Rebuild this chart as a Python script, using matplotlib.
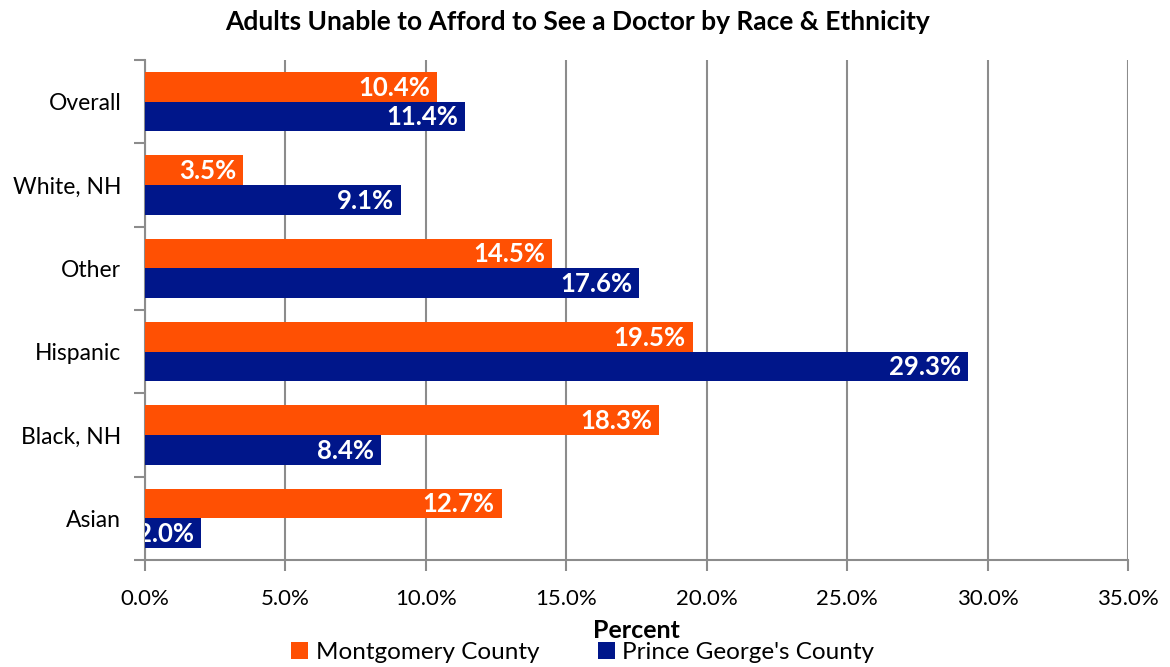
import matplotlib.pyplot as plt
import numpy as np

plt.rcParams['font.family'] = ['Lato', 'DejaVu Sans']

# Chart data (top to bottom)
categories = ['Overall', 'White, NH', 'Other', 'Hispanic', 'Black, NH', 'Asian']
montgomery = [10.4, 3.5, 14.5, 19.5, 18.3, 12.7]
prince_georges = [11.4, 9.1, 17.6, 29.3, 8.4, 2.0]
series_names = ['Montgomery County', "Prince George's County"]
xticks = [0, 5, 10, 15, 20, 25, 30, 35]

orange = '#FF5003'
navy = '#00168A'
grid_gray = '#8C8C8C'

fig = plt.figure(figsize=(11.7, 6.67), dpi=100)
ax = fig.add_axes([0.1239, 0.1604, 0.8402, 0.7496])

y = np.arange(len(categories))
bar_h = 0.355

b1 = ax.barh(y - bar_h / 2, montgomery, height=bar_h, color=orange,
             label=series_names[0], zorder=3)
b2 = ax.barh(y + bar_h / 2, prince_georges, height=bar_h, color=navy,
             label=series_names[1], zorder=3)

# value labels inside bar ends
for bars, vals in [(b1, montgomery), (b2, prince_georges)]:
    for rect, v in zip(bars, vals):
        ax.text(v - 0.25, rect.get_y() + rect.get_height() / 2 + 0.01,
                f'{v:.1f}%', ha='right', va='center', color='white',
                fontsize=18.5, fontweight='bold', zorder=4, clip_on=True)

ax.set_xlim(0, 35)
ax.set_ylim(len(categories) - 0.5, -0.5)
ax.set_xticks(xticks)
ax.set_xticklabels([f'{t:.1f}%' for t in xticks], fontsize=16)
ax.tick_params(axis='x', length=8, width=1.5, color=grid_gray, pad=13)

# category labels in the middle, ticks at boundaries
ax.set_yticks(y)
ax.set_yticklabels(categories, fontsize=16.5)
ax.tick_params(axis='y', which='major', length=0, pad=17)
ax.set_yticks(np.arange(len(categories) + 1) - 0.5, minor=True)
ax.tick_params(axis='y', which='minor', length=8, width=1.5, color=grid_gray)

ax.grid(axis='x', color=grid_gray, linewidth=1.5, zorder=0)
for side in ['top', 'right']:
    ax.spines[side].set_visible(False)
for side in ['left', 'bottom']:
    ax.spines[side].set_color(grid_gray)
    ax.spines[side].set_linewidth(1.5)

fig.text(0.494, 0.967, 'Adults Unable to Afford to See a Doctor by Race & Ethnicity',
         ha='center', va='center', fontsize=19, fontweight='bold')
fig.text(0.544, 0.054, 'Percent', ha='center', va='center',
         fontsize=18, fontweight='bold')

fig.legend(handles=[b1, b2], loc='center', bbox_to_anchor=(0.498, 0.022),
           ncol=2, frameon=False, fontsize=17.5, handlelength=0.7,
           handleheight=0.7, handletextpad=0.3, columnspacing=2.4,
           borderpad=0)

fig.savefig('out.png', dpi=100)
